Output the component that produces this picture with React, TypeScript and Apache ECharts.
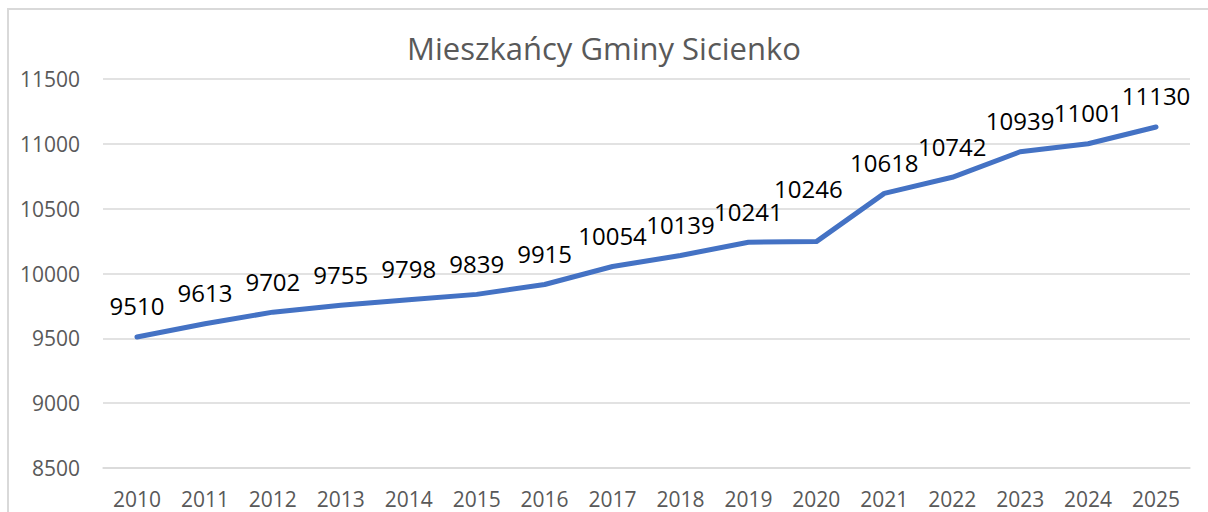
import React, { useEffect, useRef } from "react";
import * as echarts from "echarts";

const titleText = "Mieszkańcy Gminy Sicienko";
const years = ["2010", "2011", "2012", "2013", "2014", "2015", "2016", "2017", "2018", "2019", "2020", "2021", "2022", "2023", "2024", "2025"];
const residents = [9510, 9613, 9702, 9755, 9798, 9839, 9915, 10054, 10139, 10241, 10246, 10618, 10742, 10939, 11001, 11130];
const yMin = 8500;
const yMax = 11500;
const yStep = 500;

const FONT = "'Open Sans', 'Noto Sans', sans-serif";

export default function App() {
  const ref = useRef<HTMLDivElement>(null);
  useEffect(() => {
    document.body.style.margin = "0";
    const chart = echarts.init(ref.current!, null, { renderer: "svg" });
    const data = residents.map((v, i) =>
      i === 10
        ? { value: v, label: { offset: [-8, -22] } }
        : { value: v }
    );
    chart.setOption({
      animation: false,
      backgroundColor: "#ffffff",
      title: {
        text: titleText,
        left: "center",
        top: 27,
        textStyle: { fontFamily: FONT, fontSize: 31, fontWeight: "normal", color: "#595959" },
      },
      graphic: [
        {
          type: "rect",
          shape: { x: 8, y: 9, width: 1400, height: 700 },
          style: { fill: "none", stroke: "#d9d9d9", lineWidth: 2 },
          silent: true,
        },
      ],
      grid: { left: 103, right: 18, top: 79, bottom: 44, containLabel: false },
      xAxis: {
        type: "category",
        data: years,
        boundaryGap: true,
        axisLine: { show: true, lineStyle: { color: "#d9d9d9", width: 1.5 } },
        axisTick: { show: false },
        axisLabel: { fontFamily: FONT, fontSize: 21, color: "#595959", margin: 20 },
      },
      yAxis: {
        type: "value",
        min: yMin,
        max: yMax,
        interval: yStep,
        axisLine: { show: false },
        axisTick: { show: false },
        splitLine: { lineStyle: { color: "#d9d9d9", width: 1.5 } },
        axisLabel: {
          fontFamily: FONT,
          fontSize: 21,
          color: "#595959",
          margin: 23,
          formatter: (v: number) => String(v),
        },
      },
      series: [
        {
          type: "line",
          data,
          symbol: "circle",
          symbolSize: 0.1,
          itemStyle: { color: "#4472C4" },
          lineStyle: { color: "#4472C4", width: 5, cap: "round", join: "round" },
          label: {
            show: true,
            position: "top",
            distance: 19,
            fontFamily: FONT,
            fontSize: 24,
            color: "#000000",
          },
        },
      ],
    });
    return () => chart.dispose();
  }, []);
  return <div ref={ref} style={{ width: 1208, height: 512 }} />;
}
